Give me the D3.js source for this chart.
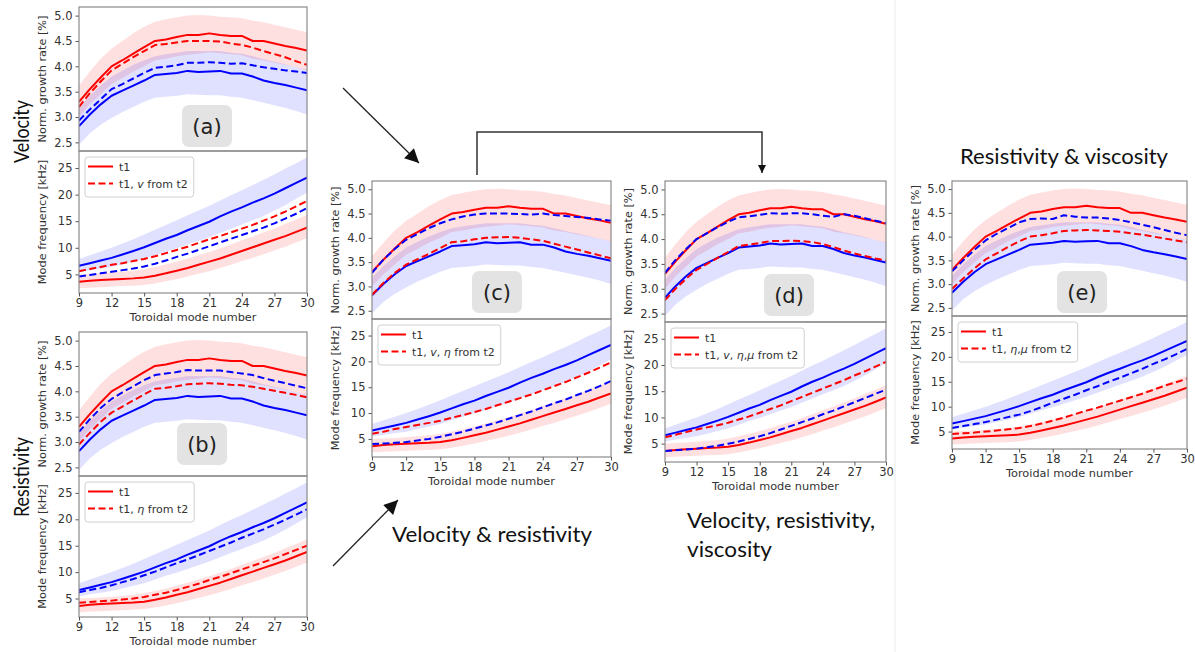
<!DOCTYPE html>
<html>
<head>
<meta charset="utf-8">
<script src="https://cdn.jsdelivr.net/npm/d3@7"></script>
<style>
body { margin: 0; background: #fff; }
svg { display: block; }
</style>
</head>
<body>
<script>
var svgWidth = 1195, svgHeight = 652;

// toroidal mode numbers (x)
var modeNumbers = [9, 10, 11, 12, 13, 14, 15, 16, 17, 18, 19, 20, 21, 22, 23, 24, 25, 26, 27, 28, 29, 30];
var modeTicks = [9, 12, 15, 18, 21, 24, 27, 30];
var growthTicks = [2.5, 3.0, 3.5, 4.0, 4.5, 5.0];
var freqTicks = [5, 10, 15, 20, 25];

// reference cases, same in every panel: t1 (red) and t2 (blue) with bands
var growthT1   = [3.30, 3.55, 3.78, 4.00, 4.12, 4.25, 4.38, 4.50, 4.53, 4.58, 4.62, 4.62, 4.65, 4.62, 4.60, 4.60, 4.50, 4.50, 4.45, 4.40, 4.36, 4.31];
var growthT1Hi = [3.62, 3.90, 4.15, 4.35, 4.50, 4.65, 4.78, 4.88, 4.93, 4.97, 5.00, 5.01, 5.00, 4.98, 4.97, 4.95, 4.90, 4.87, 4.82, 4.77, 4.72, 4.67];
var growthT1Lo = [3.00, 3.25, 3.45, 3.65, 3.77, 3.90, 4.00, 4.12, 4.15, 4.20, 4.23, 4.25, 4.28, 4.26, 4.24, 4.22, 4.15, 4.12, 4.07, 4.03, 3.98, 3.92];
var growthT2   = [2.82, 3.05, 3.25, 3.42, 3.52, 3.62, 3.72, 3.83, 3.85, 3.87, 3.91, 3.89, 3.90, 3.91, 3.86, 3.86, 3.80, 3.72, 3.67, 3.63, 3.58, 3.53];
var growthT2Hi = [3.18, 3.42, 3.62, 3.80, 3.92, 4.03, 4.12, 4.20, 4.24, 4.27, 4.30, 4.30, 4.30, 4.30, 4.27, 4.25, 4.20, 4.14, 4.09, 4.04, 3.98, 3.93];
var growthT2Lo = [2.45, 2.68, 2.85, 2.98, 3.10, 3.20, 3.30, 3.38, 3.40, 3.42, 3.45, 3.44, 3.43, 3.43, 3.40, 3.38, 3.33, 3.28, 3.23, 3.18, 3.12, 3.05];

var freqT1   = [3.6, 3.8, 3.95, 4.05, 4.15, 4.25, 4.4, 4.75, 5.2, 5.7, 6.2, 6.8, 7.4, 8.0, 8.7, 9.4, 10.1, 10.8, 11.5, 12.2, 13.0, 13.8];
var freqT1Hi = [5.0, 5.1, 5.2, 5.35, 5.5, 5.7, 6.0, 6.4, 6.9, 7.4, 8.0, 8.6, 9.2, 9.9, 10.6, 11.4, 12.1, 12.9, 13.6, 14.5, 15.3, 16.2];
var freqT1Lo = [2.4, 2.5, 2.6, 2.7, 2.8, 2.85, 3.0, 3.3, 3.7, 4.1, 4.6, 5.1, 5.6, 6.2, 6.8, 7.5, 8.1, 8.8, 9.5, 10.2, 11.0, 11.8];
var freqT2   = [6.6, 7.1, 7.6, 8.1, 8.75, 9.4, 10.1, 10.9, 11.7, 12.4, 13.3, 14.1, 14.9, 15.9, 16.8, 17.6, 18.5, 19.3, 20.2, 21.2, 22.2, 23.2];
var freqT2Hi = [7.9, 8.6, 9.3, 10.0, 10.8, 11.6, 12.5, 13.4, 14.3, 15.2, 16.1, 17.0, 17.9, 18.9, 19.9, 20.8, 21.8, 22.8, 23.8, 24.9, 25.9, 27.0];
var freqT2Lo = [5.4, 5.8, 6.1, 6.4, 6.9, 7.4, 7.9, 8.6, 9.3, 9.9, 10.6, 11.3, 12.0, 12.8, 13.6, 14.4, 15.2, 16.0, 17.0, 18.0, 19.2, 20.4];

// (a) velocity from t2
var growthRedDashA  = [3.20, 3.47, 3.70, 3.92, 4.05, 4.18, 4.30, 4.42, 4.44, 4.47, 4.50, 4.50, 4.50, 4.49, 4.45, 4.42, 4.37, 4.30, 4.24, 4.18, 4.10, 4.03];
var growthBlueDashA = [2.93, 3.15, 3.35, 3.55, 3.65, 3.76, 3.87, 3.97, 3.99, 4.02, 4.07, 4.07, 4.08, 4.07, 4.05, 4.06, 4.02, 3.98, 3.95, 3.92, 3.90, 3.87];
var freqRedDashA  = [5.6, 6.0, 6.4, 6.8, 7.1, 7.5, 7.9, 8.4, 9.0, 9.6, 10.2, 10.9, 11.6, 12.2, 12.9, 13.6, 14.3, 15.1, 15.9, 16.8, 17.8, 18.8];
var freqBlueDashA = [4.6, 4.9, 5.2, 5.5, 5.8, 6.1, 6.5, 7.0, 7.6, 8.3, 8.9, 9.6, 10.3, 11.0, 11.7, 12.4, 13.1, 13.8, 14.6, 15.5, 16.4, 17.5];

// (b) resistivity from t2
var growthRedDashB  = [2.95, 3.18, 3.40, 3.58, 3.70, 3.82, 3.94, 4.05, 4.07, 4.10, 4.14, 4.15, 4.16, 4.15, 4.13, 4.12, 4.09, 4.05, 4.01, 3.97, 3.93, 3.88];
var growthBlueDashB = [3.20, 3.45, 3.67, 3.85, 3.98, 4.10, 4.22, 4.32, 4.35, 4.38, 4.42, 4.41, 4.41, 4.41, 4.38, 4.35, 4.32, 4.26, 4.21, 4.16, 4.11, 4.06];
var freqRedDashB  = [4.2, 4.35, 4.5, 4.6, 4.8, 5.0, 5.3, 5.7, 6.1, 6.6, 7.2, 7.8, 8.5, 9.1, 9.8, 10.5, 11.2, 11.9, 12.6, 13.4, 14.2, 15.0];
var freqBlueDashB = [6.2, 6.6, 7.0, 7.5, 8.1, 8.7, 9.4, 10.1, 10.9, 11.7, 12.4, 13.2, 14.0, 14.8, 15.6, 16.5, 17.3, 18.1, 19.0, 19.9, 20.9, 21.9];

// (c) velocity & resistivity from t2
var growthRedDashC  = [2.83, 3.07, 3.28, 3.45, 3.56, 3.67, 3.79, 3.91, 3.93, 3.97, 4.00, 4.01, 4.02, 4.00, 3.97, 3.94, 3.88, 3.82, 3.76, 3.70, 3.64, 3.58];
var growthBlueDashC = [3.28, 3.55, 3.77, 3.96, 4.08, 4.20, 4.30, 4.38, 4.44, 4.48, 4.50, 4.50, 4.50, 4.49, 4.48, 4.50, 4.47, 4.45, 4.43, 4.41, 4.38, 4.35];
var freqRedDashC  = [6.0, 6.4, 6.9, 7.3, 7.7, 8.1, 8.5, 9.1, 9.6, 10.2, 10.8, 11.5, 12.2, 12.9, 13.6, 14.4, 15.2, 16.0, 16.9, 17.8, 18.8, 19.8];
var freqBlueDashC = [4.0, 4.1, 4.25, 4.4, 4.7, 5.0, 5.4, 5.9, 6.4, 7.0, 7.6, 8.2, 8.9, 9.6, 10.3, 11.1, 11.9, 12.6, 13.5, 14.3, 15.2, 16.2];

// (d) velocity, resistivity, viscosity from t2
var growthRedDashD  = [2.77, 3.00, 3.20, 3.38, 3.50, 3.62, 3.74, 3.86, 3.89, 3.92, 3.96, 3.96, 3.97, 3.96, 3.94, 3.90, 3.84, 3.77, 3.71, 3.66, 3.61, 3.57];
var growthBlueDashD = [3.32, 3.58, 3.80, 4.00, 4.12, 4.24, 4.35, 4.44, 4.46, 4.49, 4.52, 4.51, 4.52, 4.52, 4.50, 4.47, 4.45, 4.50, 4.47, 4.42, 4.37, 4.32];
var freqRedDashD  = [6.2, 6.7, 7.2, 7.7, 8.1, 8.5, 9.0, 9.6, 10.2, 10.9, 11.6, 12.3, 13.1, 13.9, 14.7, 15.5, 16.3, 17.1, 18.0, 18.8, 19.7, 20.6];
var freqBlueDashD = [3.6, 3.75, 3.9, 4.05, 4.3, 4.6, 5.0, 5.4, 5.9, 6.4, 7.0, 7.7, 8.4, 9.1, 9.8, 10.6, 11.3, 12.1, 12.9, 13.7, 14.5, 15.3];

// (e) resistivity & viscosity from t2
var growthRedDashE  = [2.90, 3.12, 3.33, 3.52, 3.65, 3.78, 3.90, 4.00, 4.03, 4.07, 4.12, 4.13, 4.14, 4.13, 4.12, 4.10, 4.07, 4.04, 4.00, 3.96, 3.92, 3.88];
var growthBlueDashE = [3.27, 3.50, 3.72, 3.92, 4.06, 4.18, 4.30, 4.37, 4.38, 4.37, 4.45, 4.42, 4.40, 4.40, 4.38, 4.35, 4.30, 4.25, 4.20, 4.14, 4.08, 4.03];
var freqRedDashE  = [4.5, 4.65, 4.8, 5.0, 5.2, 5.45, 5.7, 6.1, 6.6, 7.2, 7.8, 8.5, 9.2, 9.8, 10.5, 11.2, 11.9, 12.6, 13.4, 14.2, 14.9, 15.6];
var freqBlueDashE = [5.7, 6.1, 6.5, 6.9, 7.4, 7.9, 8.4, 9.1, 9.9, 10.8, 11.6, 12.4, 13.3, 14.1, 15.0, 15.8, 16.7, 17.6, 18.6, 19.5, 20.5, 21.6];

// legend labels, [text, italic]
var legendA = [["t1, ", 0], ["v", 1], [" from t2", 0]];
var legendB = [["t1, ", 0], ["\u03b7", 1], [" from t2", 0]];
var legendC = [["t1, ", 0], ["v", 1], [", ", 0], ["\u03b7", 1], [" from t2", 0]];
var legendD = [["t1, ", 0], ["v", 1], [", ", 0], ["\u03b7", 1], [",", 0], ["\u03bc", 1], [" from t2", 0]];
var legendE = [["t1, ", 0], ["\u03b7", 1], [",", 0], ["\u03bc", 1], [" from t2", 0]];

var panels = [
  {tag: "(a)", left: 79, right: 307, top: 7, mid: 151, bottom: 293, tagX: 207, tagBottom: 147,
   gRed: growthRedDashA, gBlue: growthBlueDashA, fRed: freqRedDashA, fBlue: freqBlueDashA, legend: legendA},
  {tag: "(b)", left: 79, right: 307, top: 332, mid: 476, bottom: 617, tagX: 202, tagBottom: 465,
   gRed: growthRedDashB, gBlue: growthBlueDashB, fRed: freqRedDashB, fBlue: freqBlueDashB, legend: legendB},
  {tag: "(c)", left: 372, right: 611, top: 181, mid: 319, bottom: 457, tagX: 497, tagBottom: 313,
   gRed: growthRedDashC, gBlue: growthBlueDashC, fRed: freqRedDashC, fBlue: freqBlueDashC, legend: legendC},
  {tag: "(d)", left: 665, right: 886, top: 181, mid: 322, bottom: 462, tagX: 789, tagBottom: 316,
   gRed: growthRedDashD, gBlue: growthBlueDashD, fRed: freqRedDashD, fBlue: freqBlueDashD, legend: legendD},
  {tag: "(e)", left: 952, right: 1187, top: 181, mid: 316, bottom: 449, tagX: 1082, tagBottom: 313,
   gRed: growthRedDashE, gBlue: growthBlueDashE, fRed: freqRedDashE, fBlue: freqBlueDashE, legend: legendE}
];

var mplFont = "'DejaVu Sans', sans-serif";
var bigFont = "Lato, 'Open Sans', sans-serif";
var red = "#ff0000", blue = "#0000ff";
var tickSize = 11.5, labelSize = 11.3, legendSize = 11;

var svg = d3.select("body").append("svg")
    .attr("width", svgWidth)
    .attr("height", svgHeight);

var defs = svg.append("defs");
defs.append("marker")
    .attr("id", "head")
    .attr("viewBox", "0 0 10 10")
    .attr("refX", 10).attr("refY", 5)
    .attr("markerWidth", 10).attr("markerHeight", 8)
    .attr("markerUnits", "userSpaceOnUse")
    .attr("orient", "auto")
  .append("path")
    .attr("d", "M0,0 L10,5 L0,10 Z")
    .attr("fill", "#111");
defs.append("marker")
    .attr("id", "bighead")
    .attr("viewBox", "0 0 10 10")
    .attr("refX", 10).attr("refY", 5)
    .attr("markerWidth", 20).attr("markerHeight", 14)
    .attr("markerUnits", "userSpaceOnUse")
    .attr("orient", "auto")
  .append("path")
    .attr("d", "M0,0 L10,5 L0,10 Z")
    .attr("fill", "#111");

// faint image border between (d) and (e)
svg.append("line")
    .attr("x1", 895).attr("x2", 895).attr("y1", 0).attr("y2", svgHeight)
    .attr("stroke", "#f2f2f2").attr("stroke-width", 1.5);

panels.forEach(function(p, k) { drawPanel(p, k); });

function drawSub(g, p, k, which, x, y, series, ticks, fmt, label) {
  var top = which == 0 ? p.top : p.mid;
  var bot = which == 0 ? p.mid : p.bottom;
  var clipId = "clip" + k + "_" + which;
  defs.append("clipPath").attr("id", clipId)
    .append("rect")
      .attr("x", p.left).attr("y", top)
      .attr("width", p.right - p.left).attr("height", bot - top);

  var plot = g.append("g").attr("clip-path", "url(#" + clipId + ")");

  var area = function(lo, hi) {
    return d3.area()
      .x(function(d, i) { return x(modeNumbers[i]); })
      .y0(function(d, i) { return y(lo[i]); })
      .y1(function(d, i) { return y(hi[i]); })(modeNumbers);
  };
  var line = function(vals) {
    return d3.line()
      .x(function(d, i) { return x(modeNumbers[i]); })
      .y(function(d) { return y(d); })(vals);
  };

  plot.append("path").attr("d", area(series.lo1, series.hi1))
      .attr("fill", red).attr("fill-opacity", 0.12);
  plot.append("path").attr("d", area(series.lo2, series.hi2))
      .attr("fill", blue).attr("fill-opacity", 0.12);

  [[series.t1, red, null], [series.t2, blue, null],
   [series.red, red, "7,3.5"], [series.blue, blue, "7,3.5"]].forEach(function(s) {
    plot.append("path").attr("d", line(s[0]))
      .attr("fill", "none")
      .attr("stroke", s[1])
      .attr("stroke-width", 2)
      .attr("stroke-linejoin", "round")
      .attr("stroke-dasharray", s[2]);
  });

  var yAxis = d3.axisLeft(y).tickValues(ticks).tickFormat(fmt)
      .tickSize(3.5).tickPadding(3);
  var ya = g.append("g")
      .attr("transform", "translate(" + p.left + ",0)")
      .call(yAxis);
  ya.select(".domain").remove();
  ya.selectAll("line").attr("stroke", "#555");
  ya.selectAll("text")
      .attr("font-family", mplFont).attr("font-size", tickSize).attr("fill", "#333");

  g.append("text")
      .attr("transform", "translate(" + (p.left - 33) + "," + ((top + bot) / 2) + ") rotate(-90)")
      .attr("text-anchor", "middle")
      .attr("font-family", mplFont).attr("font-size", labelSize).attr("fill", "#333")
      .text(label);

  g.append("rect")
      .attr("x", p.left).attr("y", top)
      .attr("width", p.right - p.left).attr("height", bot - top)
      .attr("fill", "none").attr("stroke", "#8a8a8a").attr("stroke-width", 1.2);
}

function drawPanel(p, k) {
  var g = svg.append("g").attr("class", "panel");
  var x = d3.scaleLinear().domain([9, 30]).range([p.left, p.right]);
  var yG = d3.scaleLinear().domain([2.33, 5.17]).range([p.mid, p.top]);
  var yF = d3.scaleLinear().domain([1.5, 28.2]).range([p.bottom, p.mid]);

  drawSub(g, p, k, 0, x, yG, {
      t1: growthT1, lo1: growthT1Lo, hi1: growthT1Hi,
      t2: growthT2, lo2: growthT2Lo, hi2: growthT2Hi,
      red: p.gRed, blue: p.gBlue
    }, growthTicks, d3.format(".1f"), "Norm. growth rate [%]");

  drawSub(g, p, k, 1, x, yF, {
      t1: freqT1, lo1: freqT1Lo, hi1: freqT1Hi,
      t2: freqT2, lo2: freqT2Lo, hi2: freqT2Hi,
      red: p.fRed, blue: p.fBlue
    }, freqTicks, d3.format("d"), "Mode frequency [kHz]");

  var xAxis = d3.axisBottom(x).tickValues(modeTicks).tickSize(3.5).tickPadding(2);
  var xa = g.append("g")
      .attr("transform", "translate(0," + p.bottom + ")")
      .call(xAxis);
  xa.select(".domain").remove();
  xa.selectAll("line").attr("stroke", "#555");
  xa.selectAll("text")
      .attr("font-family", mplFont).attr("font-size", tickSize).attr("fill", "#333");

  g.append("text")
      .attr("x", (p.left + p.right) / 2).attr("y", p.bottom + 28)
      .attr("text-anchor", "middle")
      .attr("font-family", mplFont).attr("font-size", labelSize).attr("fill", "#333")
      .text("Toroidal mode number");

  // panel tag box
  g.append("rect")
      .attr("x", p.tagX - 25).attr("y", p.tagBottom - 42)
      .attr("width", 50).attr("height", 42).attr("rx", 7)
      .attr("fill", "#e3e3e3");
  g.append("text")
      .attr("x", p.tagX).attr("y", p.tagBottom - 13)
      .attr("text-anchor", "middle")
      .attr("font-family", mplFont).attr("font-size", 21).attr("fill", "#222")
      .text(p.tag);

  // legend
  var lx = p.left + 6, ly = p.mid + 6;
  var leg = g.append("g");
  var frame = leg.append("rect")
      .attr("x", lx).attr("y", ly).attr("height", 40).attr("rx", 3)
      .attr("fill", "#fff").attr("fill-opacity", 0.85)
      .attr("stroke", "#d0d0d0").attr("stroke-width", 1);
  [[null, "t1"], ["7,3.5", null]].forEach(function(e, i) {
    var yy = ly + 9.5 + i * 17;
    leg.append("line")
        .attr("x1", lx + 3).attr("x2", lx + 28).attr("y1", yy).attr("y2", yy)
        .attr("stroke", red).attr("stroke-width", 2)
        .attr("stroke-dasharray", e[0]);
  });
  leg.append("text")
      .attr("x", lx + 34).attr("y", ly + 13.5)
      .attr("font-family", mplFont).attr("font-size", legendSize).attr("fill", "#333")
      .text("t1");
  var t2 = leg.append("text")
      .attr("x", lx + 34).attr("y", ly + 30.5)
      .attr("font-family", mplFont).attr("font-size", legendSize).attr("fill", "#333");
  p.legend.forEach(function(s) {
    t2.append("tspan").text(s[0]).attr("font-style", s[1] ? "italic" : null);
  });
  var tw = t2.node().getComputedTextLength();
  frame.attr("width", 34 + tw + 6);
}

// annotations
function bigText(txt, x, y, len, rot) {
  var t = svg.append("text")
      .attr("font-family", bigFont).attr("font-size", 22).attr("fill", "#111")
      .attr("textLength", len).attr("lengthAdjust", "spacingAndGlyphs")
      .text(txt);
  if (rot) t.attr("transform", "translate(" + x + "," + y + ") rotate(-90)");
  else t.attr("x", x).attr("y", y);
  return t;
}
bigText("Velocity", 29, 163, 63, true);
bigText("Resistivity", 29, 517, 80, true);
bigText("Velocity & resistivity", 392, 542, 200, false);
bigText("Velocity, resistivity,", 687, 528, 188, false);
bigText("viscosity", 687, 557, 85, false);
bigText("Resistivity & viscosity", 960, 164, 208, false);

svg.append("line")
    .attr("x1", 343).attr("y1", 88).attr("x2", 419).attr("y2", 163)
    .attr("stroke", "#222").attr("stroke-width", 1.3)
    .attr("marker-end", "url(#bighead)");
svg.append("line")
    .attr("x1", 333).attr("y1", 566).attr("x2", 398).attr("y2", 500)
    .attr("stroke", "#222").attr("stroke-width", 1.3)
    .attr("marker-end", "url(#bighead)");
svg.append("path")
    .attr("d", "M477,175 V132 H762 V173")
    .attr("fill", "none")
    .attr("stroke", "#333").attr("stroke-width", 1.5)
    .attr("marker-end", "url(#head)");
</script>
</body>
</html>
